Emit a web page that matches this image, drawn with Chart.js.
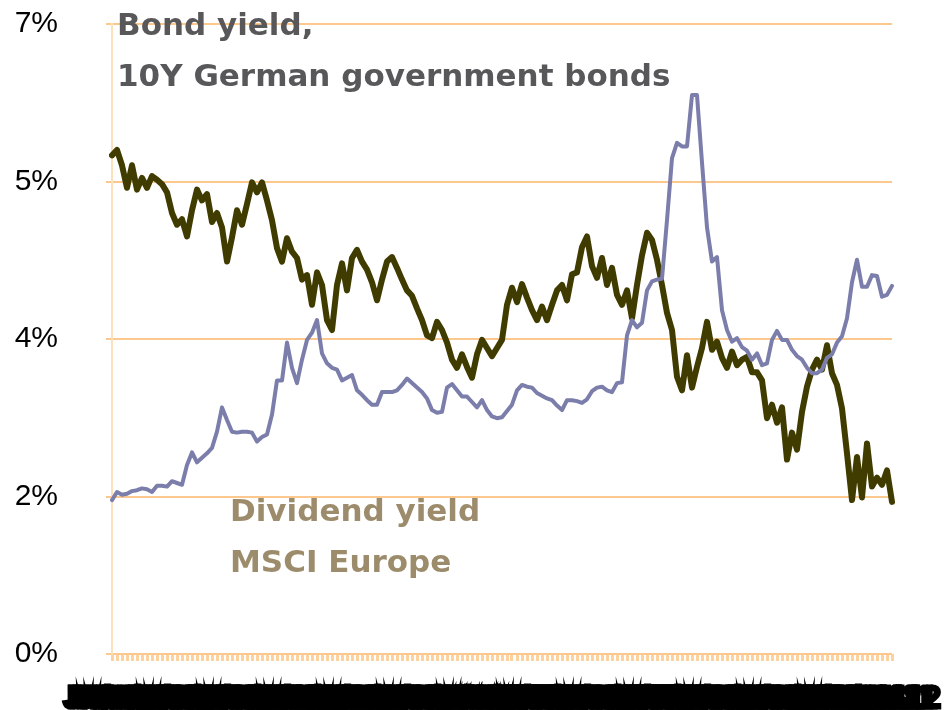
<!DOCTYPE html>
<html>
<head>
<meta charset="utf-8">
<script src="https://cdn.jsdelivr.net/npm/chart.js@4/dist/chart.umd.min.js"></script>
<style>
  body { margin: 0; background: #fff; }
  #chart { display: block; }
</style>
</head>
<body>
<canvas id="chart" width="946" height="710"></canvas>
<script>
// values, in %
const bondYield = [
  5.54, 5.60, 5.43, 5.18, 5.43, 5.16, 5.29, 5.18, 5.31, 5.27,
  5.22, 5.13, 4.90, 4.77, 4.83, 4.64, 4.93, 5.16, 5.04, 5.11,
  4.80, 4.90, 4.74, 4.36, 4.63, 4.93, 4.77, 5.00, 5.24, 5.13,
  5.24, 5.04, 4.82, 4.51, 4.36, 4.62, 4.47, 4.40, 4.16, 4.21,
  3.88, 4.24, 4.10, 3.71, 3.60, 4.10, 4.34, 4.04, 4.40, 4.49,
  4.36, 4.27, 4.13, 3.93, 4.16, 4.36, 4.41, 4.29, 4.16, 4.04,
  3.98, 3.84, 3.71, 3.54, 3.51, 3.69, 3.60, 3.46, 3.27, 3.18,
  3.33, 3.19, 3.07, 3.33, 3.49, 3.40, 3.31, 3.40, 3.49, 3.88,
  4.07, 3.91, 4.11, 3.96, 3.82, 3.71, 3.86, 3.71, 3.88, 4.04,
  4.10, 3.93, 4.22, 4.24, 4.52, 4.64, 4.31, 4.18, 4.40, 4.10,
  4.29, 3.99, 3.88, 4.04, 3.73, 4.10, 4.43, 4.68, 4.60, 4.38,
  4.10, 3.79, 3.60, 3.08, 2.93, 3.32, 2.96, 3.19, 3.40, 3.69,
  3.38, 3.47, 3.29, 3.18, 3.36, 3.21, 3.27, 3.30, 3.13, 3.13,
  3.04, 2.62, 2.77, 2.57, 2.74, 2.16, 2.46, 2.27, 2.69, 2.97,
  3.16, 3.27, 3.16, 3.43, 3.12, 2.99, 2.73, 2.23, 1.71, 2.19,
  1.74, 2.34, 1.86, 1.96, 1.88, 2.04, 1.69
];

const dividendYield = [
  1.71, 1.80, 1.77, 1.78, 1.81, 1.82, 1.84, 1.83, 1.80, 1.87,
  1.87, 1.86, 1.92, 1.90, 1.88, 2.10, 2.24, 2.13, 2.18, 2.23,
  2.29, 2.47, 2.74, 2.60, 2.47, 2.46, 2.47, 2.47, 2.46, 2.36,
  2.41, 2.44, 2.66, 3.04, 3.04, 3.46, 3.18, 3.01, 3.27, 3.49,
  3.57, 3.71, 3.34, 3.23, 3.18, 3.16, 3.04, 3.07, 3.10, 2.93,
  2.88, 2.82, 2.77, 2.77, 2.91, 2.91, 2.91, 2.93, 2.99, 3.06,
  3.01, 2.96, 2.91, 2.84, 2.71, 2.68, 2.69, 2.96, 3.00, 2.93,
  2.86, 2.86, 2.80, 2.74, 2.82, 2.71, 2.64, 2.62, 2.63, 2.70,
  2.77, 2.93, 2.99, 2.97, 2.96, 2.90, 2.87, 2.84, 2.82, 2.76,
  2.71, 2.82, 2.82, 2.81, 2.79, 2.83, 2.92, 2.96, 2.97, 2.93,
  2.91, 3.01, 3.02, 3.54, 3.71, 3.63, 3.68, 4.04, 4.14, 4.16,
  4.17, 4.82, 5.51, 5.68, 5.64, 5.64, 6.21, 6.21, 5.46, 4.74,
  4.36, 4.41, 3.82, 3.60, 3.47, 3.51, 3.41, 3.37, 3.27, 3.34,
  3.21, 3.23, 3.49, 3.59, 3.49, 3.49, 3.38, 3.31, 3.27, 3.18,
  3.12, 3.12, 3.16, 3.29, 3.33, 3.46, 3.53, 3.73, 4.13, 4.38,
  4.08, 4.08, 4.21, 4.20, 3.97, 3.99, 4.09
];

// y axis runs 0..7 in steps of 1.75, labels are rounded
const yMin = 0;
const yMax = 7;
const yStep = 1.75;

// category labels: one per month
const monthNames = ['Jan', 'Feb', 'Mar', 'Apr', 'May', 'Jun', 'Jul', 'Aug', 'Sep', 'Oct', 'Nov', 'Dec'];
const firstYear = 1999;
const labels = [];
for (let i = 0; i < bondYield.length; i++) {
    const yr = firstYear + Math.floor(i / 12);
    labels.push(monthNames[i % 12] + '-' + String(yr % 100).padStart(2, '0'));
}

// text written inside the plot
const noteLines = [
    { text: 'Bond yield,', color: '#58585a', x: 117, y: 35 },
    { text: '10Y German government bonds', color: '#58585a', x: 117, y: 86 },
    { text: 'Dividend yield', color: '#9c8c6c', x: 230, y: 521 },
    { text: 'MSCI Europe', color: '#9c8c6c', x: 230, y: 572 }
];

const notesPlugin = {
    id: 'notes',
    afterDatasetsDraw(chart) {
        const ctx = chart.ctx;
        ctx.save();
        ctx.font = 'bold 31px "DejaVu Sans", Verdana, sans-serif';
        ctx.textAlign = 'left';
        ctx.textBaseline = 'alphabetic';
        noteLines.forEach(n => {
            ctx.fillStyle = n.color;
            ctx.fillText(n.text, n.x, n.y);
        });
        ctx.restore();
    }
};

const gridOrange = '#fcc88e';
const axisOrange = '#fde1bd';
const tickOrange = '#fdd29e';

const chart = new Chart(document.getElementById('chart'), {
    type: 'line',
    data: {
        labels: labels,
        datasets: [{
            label: 'Dividend yield MSCI Europe',
            data: dividendYield,
            borderColor: '#7b7dab',
            borderWidth: 4,
            pointRadius: 0,
            tension: 0,
            borderJoinStyle: 'round',
            borderCapStyle: 'round'
        }, {
            label: 'Bond yield 10Y German government bonds',
            data: bondYield,
            borderColor: '#403c00',
            borderWidth: 6,
            pointRadius: 0,
            tension: 0,
            borderJoinStyle: 'round',
            borderCapStyle: 'round'
        }]
    },
    options: {
        responsive: false,
        animation: false,
        layout: { padding: { left: 0, right: 54, top: 24, bottom: 0 } },
        plugins: {
            legend: { display: false },
            tooltip: { enabled: false }
        },
        scales: {
            x: {
                offset: false,
                grid: {
                    drawOnChartArea: false,
                    drawTicks: true,
                    tickLength: 7,
                    tickColor: tickOrange,
                    tickWidth: 3
                },
                border: { display: false },
                ticks: {
                    autoSkip: false,
                    maxRotation: 0,
                    minRotation: 0,
                    padding: 20,
                    color: '#000',
                    textStrokeColor: '#000',
                    textStrokeWidth: 3,
                    font: { family: '"Liberation Sans", Arial, sans-serif', size: 31, weight: 'bold' }
                },
                afterFit(scale) {
                    scale.height = 56;
                    scale.paddingLeft = 0;
                    scale.paddingRight = 0;
                }
            },
            y: {
                min: yMin,
                max: yMax,
                grid: {
                    color: gridOrange,
                    lineWidth: 2,
                    tickLength: 6,
                    tickColor: gridOrange
                },
                border: { display: true, color: axisOrange, width: 2 },
                ticks: {
                    stepSize: yStep,
                    padding: 48,
                    color: '#000',
                    font: { family: '"Liberation Sans", Arial, sans-serif', size: 30 },
                    callback: v => Math.round(v) + '%'
                },
                afterFit(scale) {
                    scale.width = 112;
                    scale.paddingTop = 0;
                    scale.paddingBottom = 0;
                }
            }
        }
    },
    plugins: [notesPlugin]
});
</script>
</body>
</html>
